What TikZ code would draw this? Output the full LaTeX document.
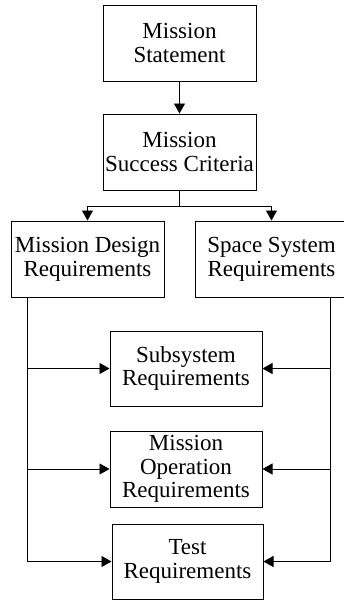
\documentclass[tikz,border=0pt]{standalone}
\usepackage{fontspec}
\setmainfont{Liberation Serif}
\usetikzlibrary{positioning,arrows.meta}

\begin{document}
\begin{tikzpicture}[
  x=1pt, y=-1pt,
  node distance=24pt and 24pt,
  reqbox/.style={draw,rectangle,line width=1pt,minimum width=153pt,minimum height=76pt,
    inner sep=0pt,align=center,font=\fontsize{23}{23.8}\selectfont},
  arr/.style={line width=0.8pt,-{Triangle[length=10pt,width=11pt]}},
  bus/.style={line width=0.8pt}
]
\useasboundingbox (0,0) rectangle (343,600);

\node[reqbox] (ms) at (179.5,43) {Mission\\Statement};
\node[reqbox,below=32pt of ms] (msc) {Mission\\Success Criteria};
\node[reqbox] (mdr) at (87.5,259) {Mission Design\\Requirements};
\node[reqbox] (ssr) at (271.5,259) {Space System\\Requirements};
\node[reqbox,minimum width=152pt,minimum height=75pt] (sub) at (186,368.5) {Subsystem\\Requirements};
\node[reqbox,minimum width=152pt,below=24pt of sub] (mor) {Mission\\Operation\\Requirements};
\node[reqbox,minimum width=151pt,minimum height=75pt] (test) at (187.5,561.5) {Test\\Requirements};

% side buses
\coordinate (lbus) at (27,0);
\coordinate (rbus) at (330,0);

\draw[arr] (ms) -- (msc);
\draw[bus] (msc.south) -- ++(0,16) coordinate (split);
\draw[arr] (split) -| (mdr);
\draw[arr] (split) -| (ssr);

\draw[arr] (mdr.south -| lbus) |- (test);
\draw[arr] (sub.west -| lbus) -- (sub.west);
\draw[arr] (mor.west -| lbus) -- (mor.west);

\draw[arr] (ssr.south -| rbus) |- (test);
\draw[arr] (sub.east -| rbus) -- (sub.east);
\draw[arr] (mor.east -| rbus) -- (mor.east);
\end{tikzpicture}
\end{document}
